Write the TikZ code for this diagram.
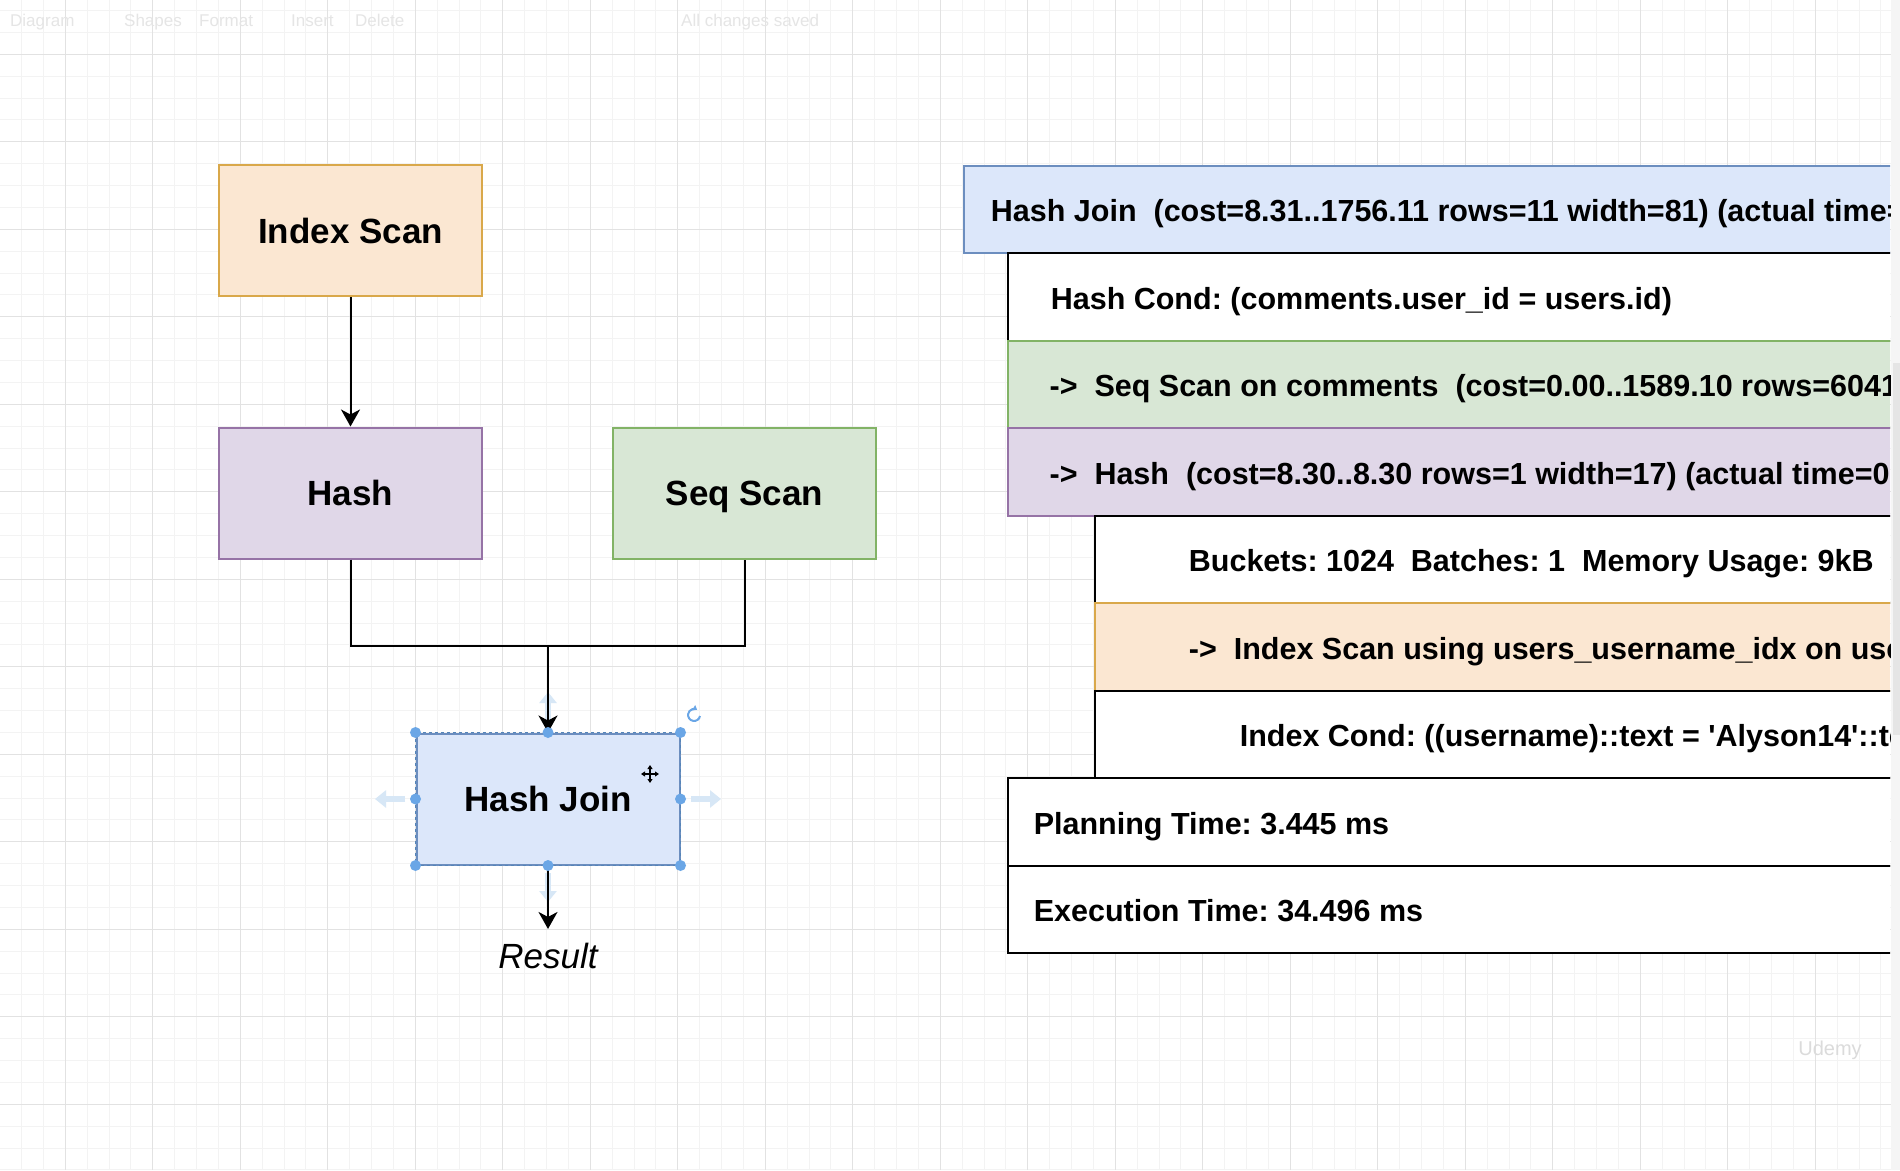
\documentclass[tikz,border=0pt]{standalone}
\usepackage{fontspec}
\newfontfamily\plansans{Liberation Sans}
\usetikzlibrary{arrows.meta}
\frenchspacing
\definecolor{joinfill}{HTML}{DCE7FA}
\definecolor{joinline}{HTML}{6C8EBF}
\definecolor{hashfill}{HTML}{E0D7E8}
\definecolor{hashline}{HTML}{9673A6}
\definecolor{seqfill}{HTML}{D8E7D5}
\definecolor{seqline}{HTML}{82B366}
\definecolor{idxfill}{HTML}{FBE7D2}
\definecolor{idxline}{HTML}{D9A84A}
\definecolor{minorgrid}{HTML}{F3F3F3}
\definecolor{majorgrid}{HTML}{E2E2E2}
\definecolor{handleblue}{HTML}{6AA6E6}
\definecolor{hoverblue}{HTML}{D7E7F6}
\tikzset{
  opbox/.style={rectangle, minimum width=263, minimum height=131, line width=2,
    text height=25.2, text depth=0,
    font=\plansans\bfseries\fontsize{35}{42}\selectfont},
  planrow/.style={rectangle, anchor=north west, minimum width=1000, minimum height=87.5,
    line width=2, inner sep=0},
  plantext/.style={anchor=base west, inner sep=0,
    font=\plansans\bfseries\fontsize{30.5}{36}\selectfont},
  link/.style={line width=2, black},
  flow/.style={link, -{Stealth[length=17, width=19, inset=5]}},
  hover/.style={line width=6, hoverblue, -{Triangle[length=11, width=17]}},
  toolbartext/.style={anchor=base west, inner sep=0, black!10,
    font=\plansans\fontsize{17}{20}\selectfont}
}
\begin{document}
\begin{tikzpicture}[x=1pt, y=-1pt]
\useasboundingbox (0,0) rectangle (1900,1170);
\fill[white] (0,0) rectangle (1900,1170);
\foreach \i in {0,...,85} \draw[minorgrid, line width=1] ({21.55+21.875*\i},0) -- ++(0,1170);
\foreach \i in {0,...,53} \draw[minorgrid, line width=1] (0,{10.55+21.875*\i}) -- ++(1900,0);
\foreach \i in {0,...,21} \draw[majorgrid, line width=1] ({65.3+87.5*\i},0) -- ++(0,1170);
\foreach \i in {0,...,12} \draw[majorgrid, line width=1] (0,{54.3+87.5*\i}) -- ++(1900,0);

\node[toolbartext] (tbdiagram) at (10,26) {Diagram};
\node[toolbartext] (tbshapes) at (124,26) {Shapes};
\node[toolbartext] (tbformat) at (199,26) {Format};
\node[toolbartext] (tbinsert) at (291,26) {Insert};
\node[toolbartext] (tbdelete) at (355,26) {Delete};
\node[toolbartext] (tbsaved) at (681,26) {All changes saved};

\node[opbox, fill=idxfill, draw=idxline] (idx) at (350.5,230.5) {Index Scan};
\node[opbox, fill=hashfill, draw=hashline] (hsh) at (350.5,493) {Hash};
\node[opbox, fill=seqfill, draw=seqline] (seq) at (744.5,493) {Seq Scan};
\node[opbox, fill=joinfill, draw=joinline] (join) at (548,799) {Hash Join};
\node[inner ysep=14, inner xsep=0, font=\plansans\itshape\fontsize{35}{42}\selectfont] (res) at (548,956) {Result};
\coordinate (mid) at (548,646);

\draw[hover] (548,722) -- (548,692);
\draw[hover] (548,873) -- (548,902);
\draw[hover] (405,799) -- (375,799);
\draw[hover] (691,799) -- (721,799);

\draw[flow] (idx.south) -- (hsh.north);
\draw[link] (hsh.south) |- (mid) -| (seq.south);
\draw[flow] (mid) -- (join.north);
\draw[flow] (join.south) -- (res.north);

\draw[handleblue!80!black, line width=1.2, dashed] (join.north west) rectangle (join.south east);
\foreach \a in {north west, north, north east, east, south east, south, south west, west}
  \fill[handleblue] (join.\a) circle (5.5);
\draw[handleblue, line width=2, -{Triangle[length=4, width=6]}] (700,716) arc (10:300:6);
\draw[black, line width=1.5, {Triangle[length=4, width=5]}-{Triangle[length=4, width=5]}] (641,774) -- (659,774);
\draw[black, line width=1.5, {Triangle[length=4, width=5]}-{Triangle[length=4, width=5]}] (650,765) -- (650,783);

\begin{scope}
\clip (0,0) rectangle (1890,1170);
\node[planrow, fill=joinfill, draw=joinline] (rowjoin) at (962.7,164.7) {};
\node[planrow, fill=white, draw=black] (rowcond) at (1006.7,252.2) {};
\node[planrow, fill=seqfill, draw=seqline] (rowseq) at (1006.7,339.7) {};
\node[planrow, fill=hashfill, draw=hashline] (rowhash) at (1006.7,427.2) {};
\node[planrow, fill=white, draw=black] (rowbuckets) at (1094.2,514.7) {};
\node[planrow, fill=idxfill, draw=idxline] (rowidx) at (1094.2,602.2) {};
\node[planrow, fill=white, draw=black] (rowidxcond) at (1094.2,689.7) {};
\node[planrow, fill=white, draw=black] (rowplan) at (1006.7,777.2) {};
\node[planrow, fill=white, draw=black] (rowexec) at (1006.7,864.7) {};

\node[plantext] (joinline) at (990.7,221.7) {Hash Join\ \ (cost=8.31..1756.11 rows=11 width=81) (actual time=};
\node[plantext] (condline) at (1050.6,309.2) {Hash Cond: (comments.user\_id = users.id)};
\node[plantext] (seqline) at (1049.4,396.7) {->\ \ Seq Scan on comments\ \ (cost=0.00..1589.10 rows=6041};
\node[plantext] (hashline) at (1049.4,484.2) {->\ \ Hash\ \ (cost=8.30..8.30 rows=1 width=17) (actual time=0};
\node[plantext] (bucketsline) at (1188.7,571.7) {Buckets: 1024\ \ Batches: 1\ \ Memory Usage: 9kB};
\node[plantext] (idxline) at (1188.7,659.2) {->\ \ Index Scan using users\_username\_idx on users};
\node[plantext] (idxcondline) at (1239.6,746.7) {Index Cond: ((username)::text = \textquotesingle Alyson14\textquotesingle::text};
\node[plantext] (planline) at (1033.6,834.2) {Planning Time: 3.445 ms};
\node[plantext] (execline) at (1033.6,921.7) {Execution Time: 34.496 ms};
\end{scope}

\fill[black!4] (1891,0) rectangle (1900,1170);
\fill[black!10] (1893,363) rectangle (1900,735);
\node[black!14, inner sep=0, font=\plansans\fontsize{20}{24}\selectfont] (watermark) at (1830,1050) {Udemy};
\end{tikzpicture}
\end{document}
